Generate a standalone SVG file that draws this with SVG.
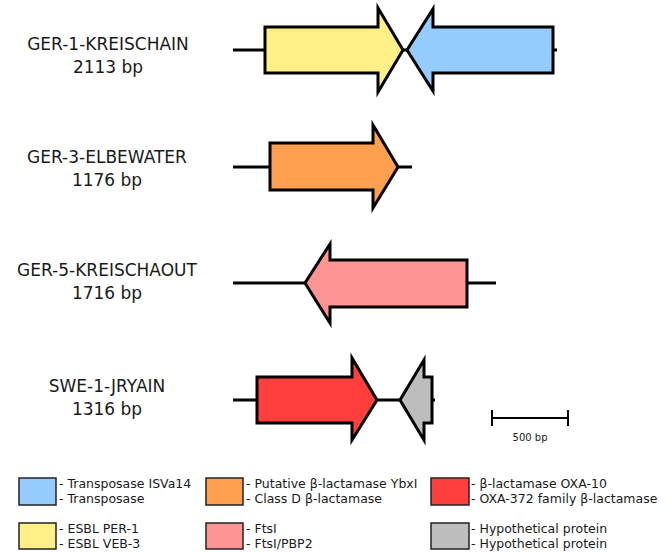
<svg xmlns="http://www.w3.org/2000/svg" width="669" height="552" viewBox="0 0 669 552">
<style>
.lbl{font-family:"DejaVu Sans",Verdana,sans-serif;font-size:17px;fill:#1a1a1a;text-anchor:middle}
.leg{font-family:"DejaVu Sans",Verdana,sans-serif;font-size:12.5px;fill:#1a1a1a}
.bb{stroke:#000;stroke-width:3;fill:none}
.gene{stroke:#000;stroke-width:3;stroke-linejoin:miter}
.box{stroke:#222;stroke-width:1.5}
</style>
<rect width="669" height="552" fill="#fff"/>
<g id="connectors">
<line class="bb" x1="233" y1="50" x2="557" y2="50"/>
<line class="bb" x1="233" y1="167" x2="412" y2="167"/>
<line class="bb" x1="233" y1="283" x2="496" y2="283"/>
<line class="bb" x1="233" y1="400" x2="435" y2="400"/>
</g>
<g id="row1">
<text class="lbl" x="108" y="50">GER-1-KREISCHAIN</text>
<text class="lbl" x="108" y="73">2113 bp</text>
<polygon id="per1" class="gene" fill="#FEF086" points="265,27 378,27 378,8 403,50 378,92 378,73 265,73"/>
<polygon id="isva14" class="gene" fill="#96CBFE" points="553,27 433,27 433,9 407,50 433,91 433,73 553,73"/>
</g>
<g id="row2">
<text class="lbl" x="107" y="163">GER-3-ELBEWATER</text>
<text class="lbl" x="107" y="186">1176 bp</text>
<polygon id="ybxi" class="gene" fill="#FEA050" points="270,143 373,143 373,125 398,167 373,208 373,190 270,190"/>
</g>
<g id="row3">
<text class="lbl" x="107" y="276">GER-5-KREISCHAOUT</text>
<text class="lbl" x="107" y="299">1716 bp</text>
<polygon id="ftsi" class="gene" fill="#FF9494" points="467,260 330,260 330,244 305,283 330,323 330,307 467,307"/>
</g>
<g id="row4">
<text class="lbl" x="107" y="392">SWE-1-JRYAIN</text>
<text class="lbl" x="107" y="415">1316 bp</text>
<polygon id="oxa10" class="gene" fill="#FF3E3E" points="257,377 352,377 352,358 377,400 352,440 352,423 257,423"/>
<polygon id="hyp" class="gene" fill="#BDBDBD" points="432,377 424,377 424,360 400,400 424,440 424,423 432,423"/>
</g>
<g id="scalebar">
<line x1="492" y1="418" x2="568" y2="418" stroke="#000" stroke-width="2"/>
<line x1="492" y1="410" x2="492" y2="426" stroke="#000" stroke-width="2"/>
<line x1="568" y1="410" x2="568" y2="426" stroke="#000" stroke-width="2"/>
<text x="530" y="441" font-family="DejaVu Sans,sans-serif" font-size="10" fill="#1a1a1a" text-anchor="middle">500 bp</text>
</g>
<g id="legend">
<rect class="box" x="19" y="478" width="37" height="27" fill="#96CBFE"/>
<text class="leg" x="59" y="488">- Transposase ISVa14</text>
<text class="leg" x="59" y="503">- Transposase</text>
<rect class="box" x="19" y="523" width="37" height="26" fill="#FEF086"/>
<text class="leg" x="59" y="533">- ESBL PER-1</text>
<text class="leg" x="59" y="548">- ESBL VEB-3</text>
<rect class="box" x="206" y="478" width="37" height="27" fill="#FEA050"/>
<text class="leg" x="246" y="488">- Putative β-lactamase YbxI</text>
<text class="leg" x="246" y="503">- Class D β-lactamase</text>
<rect class="box" x="206" y="523" width="37" height="26" fill="#FF9494"/>
<text class="leg" x="246" y="533">- FtsI</text>
<text class="leg" x="246" y="548">- FtsI/PBP2</text>
<rect class="box" x="431" y="478" width="38" height="27" fill="#FF3E3E"/>
<text class="leg" x="471" y="488">- β-lactamase OXA-10</text>
<text class="leg" x="471" y="503">- OXA-372 family β-lactamase</text>
<rect class="box" x="431" y="523" width="38" height="26" fill="#BDBDBD"/>
<text class="leg" x="471" y="533">- Hypothetical protein</text>
<text class="leg" x="471" y="548">- Hypothetical protein</text>
</g>
</svg>
